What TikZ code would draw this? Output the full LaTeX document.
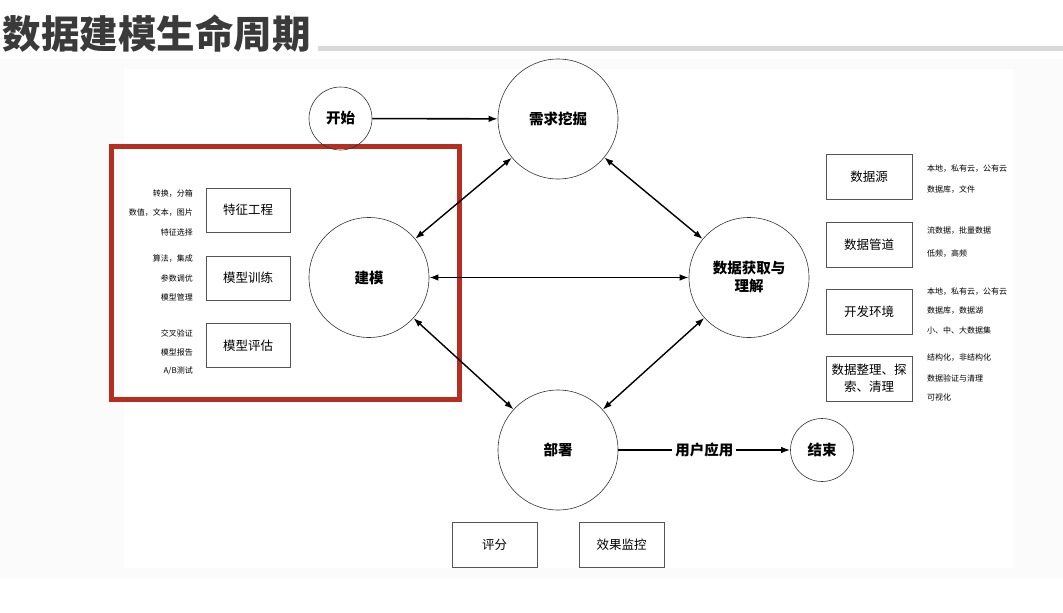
\documentclass[tikz,border=0pt]{standalone}
\usepackage{fontspec}
\setmainfont{Noto Sans CJK SC}
\usetikzlibrary{arrows.meta}
\definecolor{redbox}{HTML}{B52E1F}
\definecolor{titlec}{HTML}{3A3A3A}
\definecolor{barc}{HTML}{D9D9D9}
\definecolor{bgc}{HTML}{FBFBFB}
\definecolor{boxline}{HTML}{555555}
\tikzset{
  bigc/.style={circle,draw=black!80,line width=0.6pt,minimum size=120pt,inner sep=0pt,font=\bfseries\fontsize{14.5}{18}\selectfont,align=center},
  smallc/.style={circle,draw=black!80,line width=0.6pt,minimum size=63pt,inner sep=0pt,font=\bfseries\fontsize{14.5}{17}\selectfont},
  sbox/.style={draw=boxline,line width=0.8pt,minimum width=85pt,minimum height=45pt,inner sep=1pt,font=\fontsize{12.5}{17}\selectfont,align=center},
  note/.style={font=\fontsize{8}{10}\selectfont,inner sep=0pt},
  link/.style={line width=1.4pt,{Latex[length=9pt,width=6.5pt]}-{Latex[length=9pt,width=6.5pt]}},
  flow/.style={line width=1.6pt,-{Latex[length=9pt,width=6.5pt]}},
}
\begin{document}
\begin{tikzpicture}[x=1pt,y=-1pt]
\path[use as bounding box,fill=white] (0,0) rectangle (1063,613);
\fill[bgc] (0,59) rectangle (1063,578);
\fill[white] (124,69) rectangle (1013,568);
% title
\node[anchor=west,inner sep=0pt,text=titlec,font=\bfseries\fontsize{38.5}{41}\selectfont] (title) at (2.5,34) {数据建模生命周期};
\fill[barc] (318,45.5) rectangle (1063,50.5);
% red frame
\draw[redbox,line width=5pt] (111,146) rectangle (459.5,399.5);
% circles
\node[smallc] (start) at (340.5,118.5) {开始};
\node[bigc] (req) at (558,119) {需求挖掘};
\node[bigc] (model) at (369,277.5) {建模};
\node[bigc] (data) at (749,277.5) {数据获取与\\理解};
\node[bigc] (deploy) at (558,450) {部署};
\node[smallc] (end) at (822,450) {结束};
% connectors
\draw[flow] (start) -- (req);
\draw[link] (req) -- (model);
\draw[link] (req) -- (data);
\draw[link] (model) -- (data);
\draw[link] (model) -- (deploy);
\draw[link] (data) -- (deploy);
\draw[flow] (deploy) -- node[fill=white,inner sep=3pt,font=\bfseries\fontsize{14.5}{17}\selectfont] (use) {用户应用} (end);
% left boxes
\node[sbox,minimum width=84pt,minimum height=44pt] (fe) at (248,210) {特征工程};
\node[sbox,minimum width=84pt,minimum height=44pt] (mt) at (248,278) {模型训练};
\node[sbox,minimum width=84pt,minimum height=44pt] (me) at (248,345.5) {模型评估};
\node[note,anchor=east] (fe1) at (193,194) {转换，分箱};
\node[note,anchor=east] (fe2) at (193,213) {数值，文本，图片};
\node[note,anchor=east] (fe3) at (193,232) {特征选择};
\node[note,anchor=east] (mt1) at (193,259) {算法，集成};
\node[note,anchor=east] (mt2) at (193,278) {参数调优};
\node[note,anchor=east] (mt3) at (193,297) {模型管理};
\node[note,anchor=east] (me1) at (193,333) {交叉验证};
\node[note,anchor=east] (me2) at (193,352) {模型报告};
\node[note,anchor=east] (me3) at (193,370.5) {A/B测试};
% right boxes
\node[sbox,minimum width=86pt] (src) at (869,176.5) {数据源};
\node[sbox,minimum width=86pt] (pipe) at (869,244.5) {数据管道};
\node[sbox,minimum width=86pt] (env) at (869,311.5) {开发环境};
\node[sbox,minimum width=86pt,text width=82pt] (prep) at (869,378.5) {数据整理、探\\索、清理};
\node[note,anchor=west] (src1) at (927,169) {本地，私有云，公有云};
\node[note,anchor=west] (src2) at (927,190) {数据库，文件};
\node[note,anchor=west] (pipe1) at (927,231) {流数据，批量数据};
\node[note,anchor=west] (pipe2) at (927,254) {低频，高频};
\node[note,anchor=west] (env1) at (927,292) {本地，私有云，公有云};
\node[note,anchor=west] (env2) at (927,311) {数据库，数据湖};
\node[note,anchor=west] (env3) at (927,330) {小、中、大数据集};
\node[note,anchor=west] (prep1) at (927,358) {结构化，非结构化};
\node[note,anchor=west] (prep2) at (927,378) {数据验证与清理};
\node[note,anchor=west] (prep3) at (927,397) {可视化};
% bottom boxes
\node[sbox] (score) at (494.5,544.5) {评分};
\node[sbox] (mon) at (621.5,544.5) {效果监控};
\end{tikzpicture}
\end{document}
